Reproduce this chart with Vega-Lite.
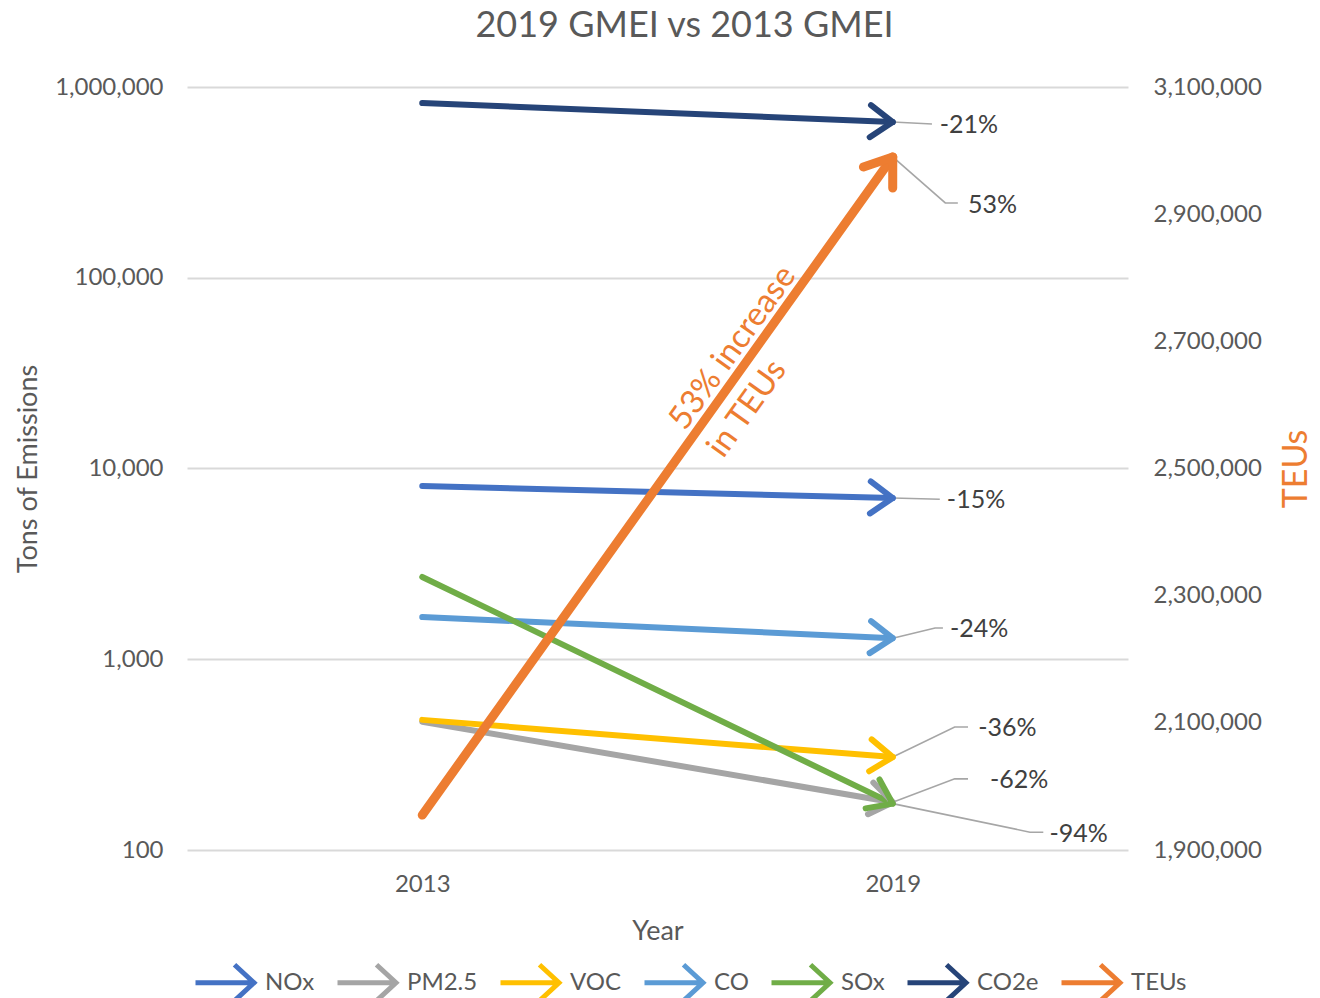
{
  "$schema": "https://vega.github.io/schema/vega-lite/v6.json",
  "width": 941,
  "height": 763,
  "autosize": {"type": "none"},
  "padding": {"left": 187, "top": 87, "right": 192, "bottom": 148},
  "background": "white",
  "title": {"text": "2019 GMEI vs 2013 GMEI", "fontSize": 36, "font": "Lato", "fontWeight": "normal", "color": "#595959", "offset": 30, "dx": 27},
  "config": {
    "font": "Lato",
    "view": {"stroke": null},
    "axis": {"labelFont": "Lato", "titleFont": "Lato", "labelColor": "#595959", "titleColor": "#595959", "labelFontSize": 24, "titleFontSize": 27, "titleFontWeight": "normal", "ticks": false, "domain": false},
    "legend": {"orient": "none", "legendX": 6, "legendY": 863, "direction": "horizontal", "symbolType": "M-1,0L0.85,0M0.3,-0.6L0.95,0L0.3,0.6", "symbolSize": 3600, "symbolStrokeWidth": 5, "symbolFillColor": "transparent", "labelFontSize": 24, "labelFont": "Lato", "labelColor": "#595959", "columnPadding": 12, "labelOffset": 7, "symbolOpacity": 1}
  },
  "datasets": {
    "emis": [
      {"series": "NOx", "year": 2013, "value": 8100},
      {"series": "NOx", "year": 2019, "value": 7000},
      {"series": "PM2.5", "year": 2013, "value": 470},
      {"series": "PM2.5", "year": 2019, "value": 178},
      {"series": "VOC", "year": 2013, "value": 481},
      {"series": "VOC", "year": 2019, "value": 307},
      {"series": "CO", "year": 2013, "value": 1665},
      {"series": "CO", "year": 2019, "value": 1290},
      {"series": "SOx", "year": 2013, "value": 2700},
      {"series": "SOx", "year": 2019, "value": 175},
      {"series": "CO2e", "year": 2013, "value": 824000},
      {"series": "CO2e", "year": 2019, "value": 655000}
    ],
    "teu": [
      {"series": "TEUs", "year": 2013, "value": 1955000},
      {"series": "TEUs", "year": 2019, "value": 2990000}
    ],
    "lead": [
      {"id": "CO2e", "year": 2019, "value": 655000},
      {"id": "CO2e", "year": 2019.5, "value": 640000},
      {"id": "NOx", "year": 2019, "value": 7000},
      {"id": "NOx", "year": 2019.6, "value": 6900},
      {"id": "CO", "year": 2019, "value": 1290},
      {"id": "CO", "year": 2019.54, "value": 1459},
      {"id": "CO", "year": 2019.64, "value": 1459},
      {"id": "VOC", "year": 2019, "value": 307},
      {"id": "VOC", "year": 2019.79, "value": 441},
      {"id": "VOC", "year": 2019.96, "value": 441},
      {"id": "PM2.5", "year": 2019, "value": 178},
      {"id": "PM2.5", "year": 2019.79, "value": 236},
      {"id": "PM2.5", "year": 2019.96, "value": 236},
      {"id": "SOx", "year": 2019, "value": 175},
      {"id": "SOx", "year": 2020.75, "value": 124},
      {"id": "SOx", "year": 2020.92, "value": 124}
    ],
    "leadTeu": [
      {"id": "TEUs", "year": 2019, "value": 2990000},
      {"id": "TEUs", "year": 2019.67, "value": 2917600},
      {"id": "TEUs", "year": 2019.83, "value": 2917600}
    ],
    "lbl": [
      {"year": 2019.6, "value": 632000, "label": "-21%"},
      {"year": 2019.69, "value": 6840, "label": "-15%"},
      {"year": 2019.73, "value": 1440, "label": "-24%"},
      {"year": 2020.09, "value": 435, "label": "-36%"},
      {"year": 2020.24, "value": 232, "label": "-62%"},
      {"year": 2021.0, "value": 122, "label": "-94%"}
    ],
    "lblTeu": [
      {"year": 2019.96, "value": 2914000, "label": "53%"}
    ],
    "note": [
      {"year": 2016.248, "value": 2566800, "label": "53% increase\nin TEUs"}
    ]
  },
  "encoding": {
    "x": {"field": "year", "type": "quantitative", "scale": {"domain": [2010, 2022], "nice": false, "zero": false},
      "axis": {"values": [2013, 2019], "format": "d", "grid": false, "labelPadding": 22, "title": "Year", "titlePadding": 22}}
  },
  "layer": [
    {
      "encoding": {
        "y": {"field": "value", "type": "quantitative",
          "scale": {"type": "log", "domain": [100, 1000000], "nice": false},
          "axis": {"orient": "left", "values": [100, 1000, 10000, 100000, 1000000], "format": ",.0f", "grid": true, "gridColor": "#D9D9D9", "gridWidth": 2, "labelPadding": 24, "title": "Tons of Emissions", "titlePadding": 12}}
      },
      "layer": [
        {
          "data": {"name": "lead"},
          "mark": {"type": "line", "color": "#A6A6A6", "strokeWidth": 1.6},
          "encoding": {"detail": {"field": "id"}}
        },
        {
          "data": {"name": "emis"},
          "mark": {"type": "line", "strokeWidth": 6, "strokeCap": "round"},
          "encoding": {
            "color": {"field": "series", "type": "nominal",
              "scale": {"domain": ["NOx", "PM2.5", "VOC", "CO", "SOx", "CO2e", "TEUs"], "range": ["#4472C4", "#A5A5A5", "#FFC000", "#5B9BD5", "#70AD47", "#264478", "#ED7D31"]},
              "legend": {"title": null}}
          }
        },
        {
          "data": {"name": "emis"},
          "transform": [{"filter": "datum.year == 2019"}],
          "mark": {"type": "point", "shape": "M-1.4,-1L0,0L-1.4,1", "filled": false, "size": 1024, "strokeWidth": 6, "strokeCap": "round", "strokeJoin": "round", "opacity": 1},
          "encoding": {
            "color": {"field": "series", "type": "nominal"},
            "angle": {"field": "series", "type": "nominal", "scale": {"type": "ordinal", "domain": ["NOx", "PM2.5", "VOC", "CO", "SOx", "CO2e"], "range": [1.5, 9.7, 4.5, 2.6, 25.7, 2.3]}, "legend": null}
          }
        },
        {
          "data": {"name": "lbl"},
          "mark": {"type": "text", "align": "left", "baseline": "middle", "fontSize": 25, "font": "Lato", "color": "#404040"},
          "encoding": {"text": {"field": "label"}}
        }
      ]
    },
    {
      "encoding": {
        "y": {"field": "value", "type": "quantitative",
          "scale": {"domain": [1900000, 3100000], "nice": false, "zero": false},
          "axis": {"orient": "right", "values": [1900000, 2100000, 2300000, 2500000, 2700000, 2900000, 3100000], "format": ",.0f", "grid": false, "labelPadding": 25, "title": "TEUs", "titleColor": "#ED7D31", "titleFontSize": 34, "titleAngle": 270, "titleBaseline": "top", "titlePadding": 18}}
      },
      "layer": [
        {
          "data": {"name": "leadTeu"},
          "mark": {"type": "line", "color": "#A6A6A6", "strokeWidth": 1.6},
          "encoding": {"detail": {"field": "id"}}
        },
        {
          "data": {"name": "teu"},
          "mark": {"type": "line", "strokeWidth": 9, "strokeCap": "round"},
          "encoding": {"color": {"field": "series", "type": "nominal"}}
        },
        {
          "data": {"name": "teu"},
          "transform": [{"filter": "datum.year == 2019"}],
          "mark": {"type": "point", "shape": "M-1.4,-1L0,0L-1.4,1", "filled": false, "size": 1300, "strokeWidth": 9, "strokeCap": "round", "strokeJoin": "round", "opacity": 1, "angle": 305.6},
          "encoding": {"color": {"field": "series", "type": "nominal"}}
        },
        {
          "data": {"name": "lblTeu"},
          "mark": {"type": "text", "align": "left", "baseline": "middle", "fontSize": 25, "font": "Lato", "color": "#404040"},
          "encoding": {"text": {"field": "label"}}
        },
        {
          "data": {"name": "note"},
          "mark": {"type": "text", "align": "left", "baseline": "middle", "fontSize": 33, "font": "Lato", "color": "#ED7D31", "angle": 305.6, "lineBreak": "\n", "lineHeight": 47},
          "encoding": {"text": {"field": "label"}}
        }
      ]
    }
  ],
  "resolve": {"scale": {"y": "independent"}}
}
